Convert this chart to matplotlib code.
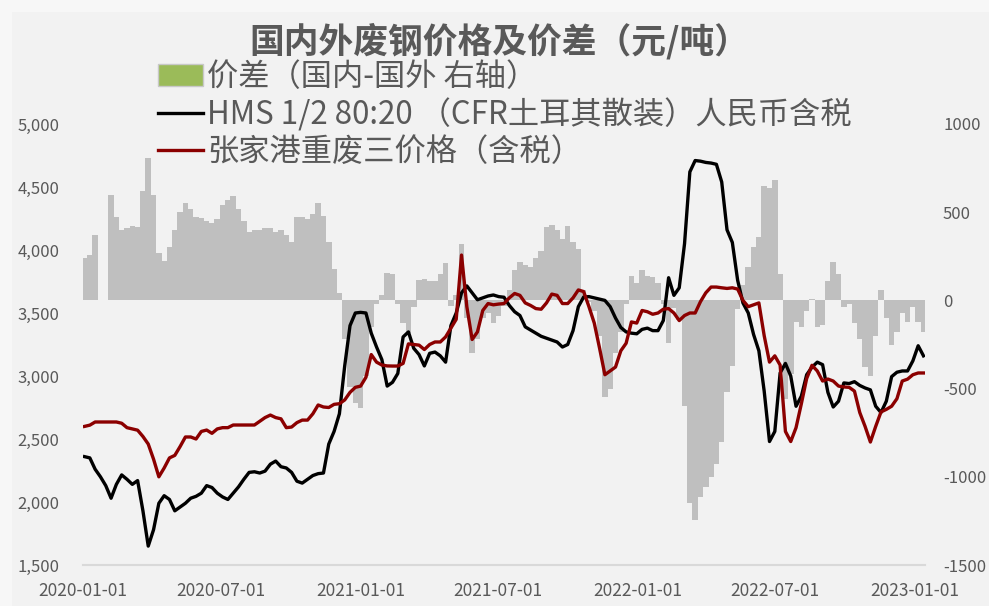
import pandas as pd
import matplotlib.pyplot as plt
import matplotlib.dates as mdates
from matplotlib.patches import Patch, Rectangle
from matplotlib.lines import Line2D
from matplotlib.ticker import FuncFormatter

plt.rcParams['font.family'] = ['Noto Sans CJK SC', 'DejaVu Sans']

# weekly samples (2020-01-03 ... 2023-01-13)
dates = pd.date_range('2020-01-03', periods=159, freq='7D')

# HMS 1/2 80:20 (CFR Turkey), RMB incl. tax
hms = [2360, 2350, 2260, 2200, 2130, 2030, 2140, 2215, 2180, 2140,
       2170, 1930, 1650, 1780, 1990, 2050, 2020, 1930, 1960, 1990,
       2030, 2045, 2070, 2130, 2115, 2070, 2040, 2020, 2070, 2120,
       2180, 2235, 2240, 2230, 2245, 2300, 2325, 2280, 2270, 2235,
       2165, 2150, 2180, 2210, 2225, 2230, 2460, 2560, 2700, 3080,
       3400, 3500, 3505, 3500, 3340, 3230, 3130, 2920, 2950, 3020,
       3310, 3350, 3220, 3170, 3080, 3180, 3190, 3160, 3110, 3400,
       3500, 3660, 3715, 3660, 3605, 3620, 3635, 3643, 3630, 3625,
       3560, 3510, 3480, 3390, 3365, 3340, 3315, 3300, 3285, 3270,
       3230, 3250, 3360, 3550, 3627, 3630, 3620, 3610, 3600, 3550,
       3460, 3385, 3350, 3340, 3335, 3370, 3380, 3360, 3360, 3440,
       3780, 3640, 3700, 4050, 4620, 4710, 4705, 4695, 4690, 4680,
       4540, 4160, 4060, 3760, 3580, 3500, 3330, 3200, 2880, 2480,
       2560, 3024, 3100, 3000, 2760, 2840, 3010, 3070, 3110, 3090,
       2870, 2754, 2800, 2945, 2940, 2955, 2925, 2905, 2890, 2760,
       2710, 2800, 2995, 3030, 3040, 3040, 3120, 3240, 3160]

# Zhangjiagang heavy scrap grade 3, incl. tax
zjg = [2600, 2610, 2635, 2635, 2635, 2635, 2635, 2625, 2590, 2580,
       2570, 2520, 2460, 2340, 2200, 2270, 2350, 2370, 2440, 2516,
       2516, 2500, 2560, 2571, 2545, 2580, 2590, 2590, 2611, 2611,
       2611, 2611, 2611, 2640, 2670, 2690, 2670, 2660, 2590, 2595,
       2630, 2650, 2650, 2700, 2770, 2754, 2750, 2775, 2780, 2810,
       2870, 2910, 2920, 2990, 3170, 3110, 3087, 3080, 3079, 3079,
       3100, 3255, 3250, 3245, 3210, 3250, 3270, 3270, 3310, 3380,
       3450, 3960, 3550, 3290, 3350, 3520, 3575, 3565, 3571, 3575,
       3620, 3655, 3640, 3580, 3560, 3535, 3530, 3580, 3650, 3640,
       3575, 3575, 3620, 3683, 3670, 3550, 3420, 3220, 3010, 3040,
       3071, 3200, 3260, 3429, 3420, 3520, 3510, 3490, 3500, 3530,
       3535, 3500, 3440, 3480, 3500, 3500, 3590, 3660, 3706, 3706,
       3700, 3695, 3700, 3690, 3600, 3550, 3565, 3580, 3320, 3110,
       3160, 3087, 2560, 2480, 2590, 2780, 2980, 3085, 3040, 2960,
       2976, 2960, 2920, 2913, 2910, 2880, 2710, 2600, 2476, 2600,
       2715, 2735, 2760, 2820, 2960, 2975, 3010, 3024, 3024]

# spread (domestic - foreign), right axis
nan = float('nan')
spread = [242, 260, 370, nan, nan, 600, 470, 400, 410, 420,
          415, 620, 810, 600, 270, 225, 300, 400, 500, 550,
          520, 470, 465, 450, 440, 460, 540, 570, 590, 520,
          450, 390, 400, 400, 410, 410, 390, 400, 370, 330,
          470, 470, 460, 490, 550, 480, 330, 180, 40, -220,
          -490, -580, -610, -430, -150, -20, 30, 155, 150, -20,
          -130, -185, -40, 115, 120, 110, 110, 150, 210, -30,
          30, 320, -100, -300, -220, -100, -70, -130, -90, -30,
          60, 170, 215, 200, 190, 240, 280, 415, 430, 400,
          350, 420, 330, 290, 60, -10, -60, -200, -550, -500,
          -300, -180, -20, 140, 100, 170, 140, 130, 100, -20,
          -240, -45, -110, -600, -1150, -1245, -1115, -1060, -1000, -930,
          -800, -520, -370, -50, 90, 190, 300, 360, 650, 640,
          680, 150, -560, -420, -120, -150, -60, 10, -150, -140,
          110, 220, 150, -40, -20, -130, -220, -380, -430, -200,
          60, -100, -250, -180, -70, -120, -40, -120, -180]

xticks = ['2020-01-01', '2020-07-01', '2021-01-01', '2021-07-01',
          '2022-01-01', '2022-07-01', '2023-01-01']

grey_txt = '#595959'

fig = plt.figure(figsize=(9.89, 6.06), dpi=100, facecolor='#F7F7F7')
fig.patches.append(Rectangle((12 / 989, 0), 1, 1 - 12 / 606, transform=fig.transFigure,
                             facecolor='#F2F2F2', edgecolor='none', zorder=-10))

ax = fig.add_axes([83 / 989, 1 - 565 / 606, (925 - 83) / 989, (565 - 124) / 606])
ax2 = ax.twinx()

ax2.bar(dates, spread, width=7.3, color='#BFBFBF', linewidth=0)
ax.plot(dates, hms, color='black', lw=2.4)
ax.plot(dates, zjg, color='#8B0000', lw=2.4)

ax.set_zorder(ax2.get_zorder() + 1)
ax.patch.set_visible(False)
ax2.patch.set_visible(False)

ax.set_ylim(1500, 5000)
ax2.set_ylim(-1500, 1000)
ax.set_yticks(range(1500, 5001, 500))
ax2.set_yticks(range(-1500, 1001, 500))
ax.yaxis.set_major_formatter(FuncFormatter(lambda v, p: f'{int(v):,}'))
ax2.yaxis.set_major_formatter(FuncFormatter(lambda v, p: f'{int(v)}'))

ax.set_xlim(pd.Timestamp('2020-01-01'), pd.Timestamp('2023-01-15'))
ax.set_xticks(pd.to_datetime(xticks))
ax.xaxis.set_major_formatter(mdates.DateFormatter('%Y-%m-%d'))

for a in (ax, ax2):
    for s in a.spines.values():
        s.set_visible(False)
ax.spines['bottom'].set_visible(True)
ax.spines['bottom'].set_color('#D9D9D9')
ax.spines['bottom'].set_linewidth(1.5)

ax.tick_params(axis='y', length=0, labelsize=12, colors=grey_txt, pad=17)
ax.tick_params(axis='x', length=0, labelsize=12.5, colors=grey_txt, pad=12)
ax2.tick_params(axis='y', length=0, labelsize=12, colors=grey_txt, pad=13)

fig.text(0.505, 1 - 41 / 606, '国内外废钢价格及价差（元/吨）', ha='center', va='center',
         fontsize=25, fontweight='bold', color=grey_txt)

handles = [Patch(facecolor='#9BBB59', edgecolor='#C8C8C8'),
           Line2D([], [], color='black', lw=2.4),
           Line2D([], [], color='#8B0000', lw=2.4)]
labels = ['价差（国内-国外 右轴）',
          'HMS 1/2 80:20 （CFR土耳其散装）人民币含税',
          '张家港重废三价格（含税）']
fig.legend(handles, labels, loc='upper left', bbox_to_anchor=(158 / 989, 1 - 61 / 606),
           frameon=False, fontsize=22.5, labelcolor=grey_txt, handlelength=1.45,
           handletextpad=0.12, labelspacing=0.16, borderpad=0, borderaxespad=0)

fig.savefig('out.png', dpi=100, facecolor=fig.get_facecolor())
